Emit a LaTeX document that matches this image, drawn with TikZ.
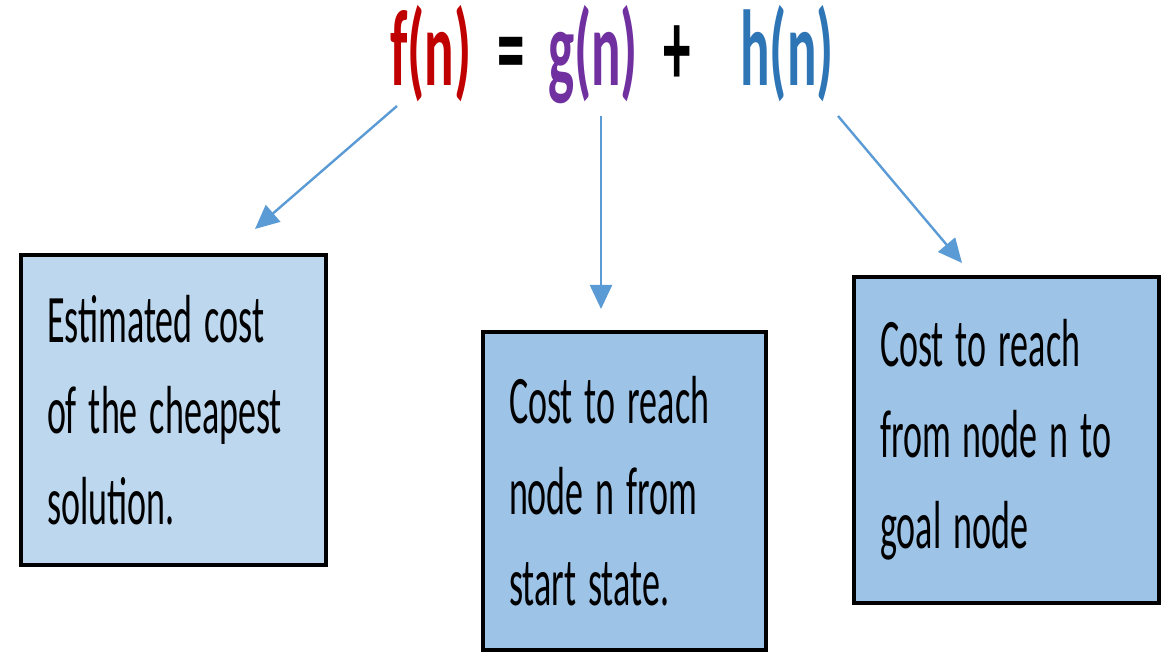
\documentclass[tikz,border=0pt]{standalone}
\usepackage{fontspec}
\usepackage{xcolor}
\usetikzlibrary{arrows.meta}
\newfontfamily\boxfont[FakeStretch=0.53]{Carlito}
\newfontfamily\eqfont[FakeStretch=0.51]{Carlito}
\DeclareRobustCommand\boxtext{\boxfont\fontsize{34}{45.5}\selectfont\spaceskip=6pt plus 1pt\relax}
\definecolor{fred}{HTML}{C00000}
\definecolor{gpurple}{HTML}{7030A0}
\definecolor{hblue}{HTML}{2E75B6}
\definecolor{arrowblue}{HTML}{5B9BD5}
\definecolor{lightfill}{HTML}{BDD7EE}
\definecolor{darkfill}{HTML}{9DC3E6}

\begin{document}
\begin{tikzpicture}[x=0.5pt,y=-0.5pt,
    term/.style={anchor=base,inner sep=0pt,font=\eqfont\bfseries\fontsize{54}{60}\selectfont},
    costbox/.style={draw=black,line width=2pt,inner xsep=13pt,inner ysep=0pt,font=\boxtext},
    pointer/.style={draw=arrowblue,line width=1.2pt,-{Triangle[width=11pt,length=12pt]}}]
                \useasboundingbox (0,0) rectangle (1165,657);
                % formula
                \node[term,text=fred] (fn) at (431,86) {f(n)};
                \node[term] (eq) at (511,86) {=};
                \node[term,text=gpurple] (gn) at (593,86) {g(n)};
                \node[term] (plus) at (677,86) {+};
                \node[term,text=hblue] (hn) at (787,86) {h(n)};
                % boxes
                \node[costbox,fill=lightfill,minimum height=155pt] (fbox) at (173.5,410)
                    {\parbox{126.5pt}{Estimated cost\\of the cheapest\\solution.}};
                \node[costbox,fill=darkfill,minimum height=159pt] (gbox) at (624.5,491)
                    {\parbox{115.5pt}{Cost to reach\\node n from\\start state.}};
                \node[costbox,fill=darkfill,minimum height=163pt] (hbox) at (1006.5,440)
                    {\parbox{126.5pt}{Cost to reach\\from node n to\\goal node}};
                % arrows
                \coordinate (fstart) at (397,106);
                \coordinate (fend) at (255,229);
                \coordinate (gstart) at (601,116);
                \coordinate (gend) at (601,309);
                \coordinate (hstart) at (838,116);
                \coordinate (hend) at (962,263);
                \draw[pointer] (fstart) -- (fend);
                \draw[pointer] (gstart) -- (gend);
                \draw[pointer] (hstart) -- (hend);
            \end{tikzpicture}
\end{document}
